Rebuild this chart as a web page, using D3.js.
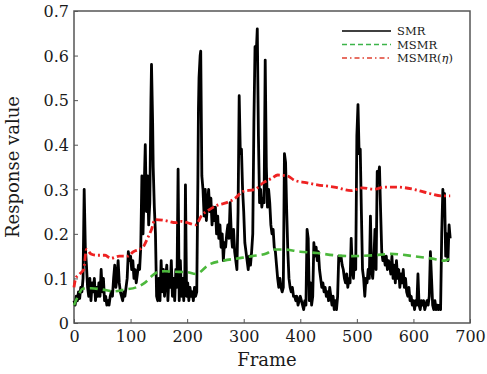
<!DOCTYPE html>
<html>
<head>
<meta charset="utf-8">
<script src="https://cdn.jsdelivr.net/npm/d3@7"></script>
<style>
  html, body { margin: 0; padding: 0; background: #fff; }
  svg { display: block; font-family: "DejaVu Serif", "Liberation Serif", serif; }
</style>
</head>
<body>
<svg id="chart" width="487" height="374"></svg>
<script>
// ---- dados ----
const smrFrames = [
  0,2,4,6,8,10,12,14,16,18,20,22,24,26,28,30,32,34,36,38,40,42,44,46,48,50,52,54,56,58,
  60,62,64,66,68,70,72,74,76,78,80,82,84,86,88,90,92,94,96,98,100,102,104,106,108,110,112,114,116,118,
  120,122,124,126,128,130,132,134,136,137,139,140,142,144,146,148,150,152,154,156,158,160,162,164,166,168,170,172,174,176,
  178,180,182,184,186,188,190,192,194,196,197,199,201,203,205,207,209,211,213,215,217,219,220,221,223,224,226,228,230,232,
  234,236,238,240,242,244,246,248,250,252,254,256,258,260,262,264,266,268,270,272,274,276,278,280,282,284,286,288,290,292,
  294,296,298,300,302,304,306,308,310,312,314,316,318,320,322,324,326,328,330,332,334,336,338,340,342,344,346,348,350,352,
  354,356,358,360,362,364,366,368,370,372,374,376,378,380,382,384,386,388,390,392,394,396,398,400,402,404,406,408,410,412,
  414,416,418,420,422,424,426,428,430,432,434,436,438,440,442,444,446,448,450,452,454,456,458,460,462,464,466,468,470,472,
  474,476,478,480,482,484,486,488,490,492,494,496,498,500,502,504,506,508,510,512,514,516,518,520,522,524,526,528,530,532,
  534,536,538,540,542,544,546,548,550,552,554,556,558,560,562,564,566,568,570,572,574,576,578,580,582,584,586,588,590,592,
  594,596,598,600,602,604,606,608,610,612,614,616,618,620,622,624,626,628,630,632,634,636,638,640,642,644,646,648,650,652,
  654,655,657,659,661,663,665
];
const smrValues = [
  0.05,0.04,0.06,0.05,0.07,0.055,0.08,0.07,0.1,0.3,0.17,0.13,0.08,0.06,0.1,0.05,0.09,0.07,0.1,0.05,0.08,0.06,0.09,0.06,0.12,0.07,0.1,0.05,0.06,0.04,
  0.05,0.04,0.06,0.07,0.06,0.1,0.13,0.08,0.1,0.14,0.09,0.07,0.06,0.05,0.07,0.06,0.08,0.1,0.16,0.14,0.15,0.12,0.14,0.1,0.12,0.09,0.11,0.13,0.12,0.17,
  0.33,0.2,0.3,0.4,0.25,0.33,0.22,0.27,0.5,0.58,0.45,0.35,0.26,0.2,0.06,0.05,0.1,0.05,0.14,0.07,0.12,0.06,0.1,0.13,0.05,0.11,0.08,0.14,0.06,0.1,
  0.05,0.12,0.08,0.345,0.05,0.14,0.06,0.1,0.05,0.12,0.31,0.06,0.09,0.05,0.08,0.06,0.07,0.05,0.08,0.06,0.07,0.32,0.48,0.55,0.6,0.61,0.33,0.3,0.24,0.3,
  0.23,0.27,0.3,0.25,0.28,0.22,0.26,0.23,0.26,0.2,0.24,0.19,0.22,0.17,0.2,0.14,0.18,0.17,0.2,0.22,0.19,0.27,0.2,0.17,0.21,0.16,0.14,0.12,0.25,0.51,
  0.38,0.39,0.3,0.25,0.18,0.16,0.14,0.12,0.15,0.13,0.16,0.2,0.45,0.62,0.6,0.66,0.42,0.27,0.3,0.26,0.28,0.27,0.59,0.35,0.26,0.3,0.27,0.22,0.2,0.21,
  0.17,0.16,0.13,0.1,0.08,0.1,0.08,0.07,0.08,0.38,0.36,0.25,0.16,0.1,0.08,0.07,0.08,0.06,0.06,0.05,0.06,0.04,0.05,0.06,0.05,0.04,0.03,0.05,0.04,0.21,
  0.19,0.05,0.09,0.04,0.06,0.18,0.15,0.17,0.14,0.16,0.12,0.1,0.08,0.09,0.07,0.08,0.06,0.07,0.05,0.08,0.06,0.04,0.06,0.03,0.05,0.03,0.06,0.15,0.14,0.15,
  0.13,0.12,0.1,0.09,0.11,0.08,0.1,0.09,0.19,0.12,0.1,0.15,0.12,0.42,0.49,0.38,0.39,0.25,0.12,0.1,0.06,0.1,0.09,0.12,0.1,0.24,0.12,0.1,0.14,0.21,
  0.12,0.34,0.33,0.35,0.25,0.16,0.14,0.15,0.13,0.15,0.12,0.14,0.13,0.11,0.15,0.1,0.13,0.09,0.14,0.1,0.12,0.08,0.11,0.09,0.12,0.08,0.1,0.07,0.06,0.08,
  0.05,0.06,0.04,0.05,0.03,0.05,0.04,0.11,0.04,0.03,0.05,0.04,0.05,0.03,0.04,0.05,0.04,0.06,0.16,0.1,0.04,0.03,0.05,0.03,0.04,0.03,0.04,0.03,0.2,0.3,
  0.25,0.29,0.15,0.2,0.14,0.22,0.19
];

const msmrFrames = [0,5,10,15,30,50,70,90,110,125,140,150,160,180,200,215,240,265,290,315,340,355,370,400,430,460,490,530,560,600,630,655,665];
const msmrValues = [0.04,0.055,0.068,0.077,0.078,0.075,0.071,0.075,0.08,0.09,0.108,0.115,0.116,0.115,0.114,0.11,0.132,0.14,0.145,0.15,0.156,0.165,0.165,0.16,0.157,0.152,0.15,0.152,0.155,0.15,0.145,0.14,0.145];

const etaFrames = [0,3,10,17,22,30,40,55,65,80,95,105,115,122,130,137,143,160,180,190,200,215,225,240,255,270,285,298,320,335,350,360,377,390,410,430,460,490,510,530,550,570,600,630,650,665];
const etaValues = [0.08,0.1,0.11,0.12,0.165,0.155,0.152,0.152,0.145,0.15,0.15,0.16,0.165,0.17,0.19,0.21,0.232,0.23,0.225,0.228,0.225,0.22,0.24,0.255,0.265,0.27,0.28,0.295,0.3,0.315,0.325,0.332,0.33,0.32,0.315,0.31,0.305,0.297,0.303,0.3,0.305,0.305,0.3,0.29,0.285,0.285];

const xTicks = [0,100,200,300,400,500,600,700];
const yTicks = [0,0.1,0.2,0.3,0.4,0.5,0.6,0.7];
const legendLabels = ["SMR", "MSMR", "MSMR(η)"];

// ---- layout ----
const svg = d3.select("#chart");
const margem = { left: 74, top: 11, right: 470, bottom: 323 };
const corTexto = "#1a1a1a";
const corBorda = "#555";

const x = d3.scaleLinear().domain([0, 700]).range([margem.left, margem.right]);
const y = d3.scaleLinear().domain([0, 0.7]).range([margem.bottom, margem.top]);

// ticks para dentro
const eixoX = svg.append("g")
  .attr("transform", `translate(0,${margem.bottom})`)
  .call(d3.axisBottom(x).tickValues(xTicks).tickSizeInner(-4).tickSizeOuter(0).tickPadding(7).tickFormat(d3.format("d")));
const eixoY = svg.append("g")
  .attr("transform", `translate(${margem.left},0)`)
  .call(d3.axisLeft(y).tickValues(yTicks).tickSizeInner(-4).tickSizeOuter(0).tickPadding(5)
    .tickFormat(d => d === 0 ? "0" : d3.format(".1f")(d)));

[eixoX, eixoY].forEach(g => {
  g.select(".domain").remove();
  g.selectAll(".tick line").attr("stroke", corBorda).attr("stroke-width", 1);
  g.selectAll(".tick text")
    .attr("fill", corTexto)
    .style("font-size", "16px")
    .style("font-family", "'DejaVu Serif', serif");
});
eixoX.selectAll(".tick text").attr("dy", "0.75em");
eixoY.selectAll(".tick text").attr("dy", "0.36em");

// caixa
svg.append("rect")
  .attr("x", margem.left).attr("y", margem.top)
  .attr("width", margem.right - margem.left).attr("height", margem.bottom - margem.top)
  .attr("fill", "none").attr("stroke", corBorda).attr("stroke-width", 1.5);

// ---- séries ----
const linha = d3.line().x(d => x(d[0])).y(d => y(d[1]));

svg.append("path")
  .datum(d3.zip(smrFrames, smrValues))
  .attr("d", linha)
  .attr("fill", "none").attr("stroke", "#000").attr("stroke-width", 2.8)
  .attr("stroke-linejoin", "round");

const linhaSuave = d3.line().x(d => x(d[0])).y(d => y(d[1])).curve(d3.curveMonotoneX);

svg.append("path")
  .datum(d3.zip(msmrFrames, msmrValues))
  .attr("d", linhaSuave)
  .attr("fill", "none").attr("stroke", "#4cb83c").attr("stroke-width", 2.6)
  .attr("stroke-dasharray", "8,5");

svg.append("path")
  .datum(d3.zip(etaFrames, etaValues))
  .attr("d", linhaSuave)
  .attr("fill", "none").attr("stroke", "#ee2222").attr("stroke-width", 2.8)
  .attr("stroke-dasharray", "7,3,2,3");

// ---- títulos dos eixos ----
svg.append("text")
  .attr("x", x(350) - 5).attr("y", 366)
  .attr("text-anchor", "middle")
  .attr("fill", corTexto).style("font-size", "18px")
  .text("Frame");

svg.append("text")
  .attr("transform", "translate(19,167) rotate(-90)")
  .attr("text-anchor", "middle")
  .attr("fill", corTexto).style("font-size", "18px")
  .text("Response value");

// ---- legenda ----
const estilos = [
  { cor: "#000", dash: null },
  { cor: "#3cb44a", dash: "5,3" },
  { cor: "#e04030", dash: "5,3,1.5,3" }
];
const legenda = svg.append("g");
legendLabels.forEach((rotulo, i) => {
  const ly = 31 + i * 13.5;
  legenda.append("line")
    .attr("x1", 342).attr("x2", 391).attr("y1", ly).attr("y2", ly)
    .attr("stroke", estilos[i].cor).attr("stroke-width", 1.5)
    .attr("stroke-dasharray", estilos[i].dash);
  const t = legenda.append("text")
    .attr("x", 397).attr("y", ly).attr("dy", "0.36em")
    .attr("fill", corTexto).style("font-size", "11.5px");
  if (rotulo.includes("η")) {
    t.append("tspan").text("MSMR(");
    t.append("tspan").style("font-style", "italic").text("η");
    t.append("tspan").text(")");
  } else {
    t.text(rotulo);
  }
});
</script>
</body>
</html>
